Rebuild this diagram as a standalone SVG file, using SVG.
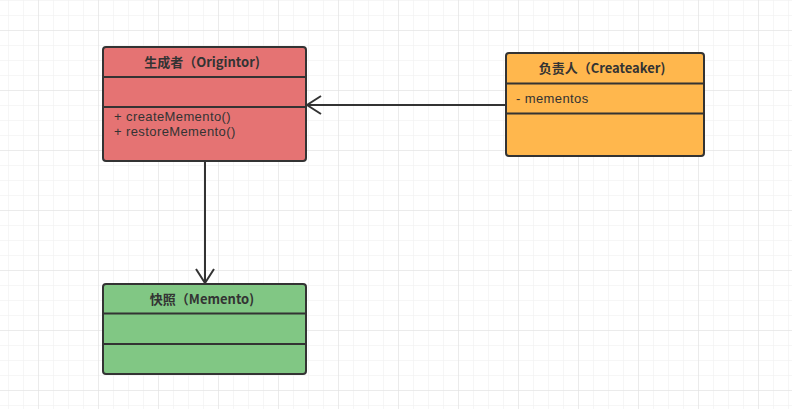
<svg xmlns="http://www.w3.org/2000/svg" width="792" height="409" viewBox="0 0 792 409">
<defs>
<pattern id="minor" width="15" height="15" patternUnits="userSpaceOnUse" x="8" y="0">
<path d="M0 0H15M0 0V15" fill="none" stroke="#eeeeee" stroke-width="1"/>
</pattern>
<pattern id="major" width="60" height="60" patternUnits="userSpaceOnUse" x="38" y="30">
<path d="M0 0H60M0 0V60" fill="none" stroke="#e0e0e0" stroke-width="1"/>
</pattern>
<marker id="open" viewBox="0 0 20 20" refX="19" refY="10" markerWidth="20" markerHeight="20" markerUnits="userSpaceOnUse" orient="auto">
<path d="M5 1L19 10L5 19" fill="none" stroke="#333333" stroke-width="2"/>
</marker>
</defs>
<style>
.box{stroke:#333333;stroke-width:2}
.div{stroke:#333333;stroke-width:2}
.title{font-family:"Noto Sans CJK SC","Noto Sans",sans-serif;font-size:13px;font-weight:bold;fill:#333333;text-anchor:middle}
.item{font-family:"Liberation Sans","Noto Sans CJK SC",sans-serif;font-size:13px;letter-spacing:0.4px;fill:#333333}
.edge{fill:none;stroke:#333333;stroke-width:2}
</style>
<rect width="792" height="409" fill="#ffffff"/>
<rect width="792" height="409" fill="url(#minor)"/>
<rect width="792" height="409" fill="url(#major)"/>
<g id="connectors">
<path class="edge" d="M506 105H307" marker-end="url(#open)"/>
<path class="edge" d="M205 162V283" marker-end="url(#open)"/>
</g>
<g id="originator">
<rect class="box" x="103" y="47" width="203" height="114" rx="3" fill="#E57373"/>
<line class="div" x1="103" y1="77" x2="306" y2="77"/>
<line class="div" x1="103" y1="107" x2="306" y2="107"/>
<text class="title" x="202" y="67">生成者（Origintor)</text>
<text class="item" x="114" y="120.5">+ createMemento()</text>
<text class="item" x="114" y="135.5">+ restoreMemento()</text>
</g>
<g id="caretaker">
<rect class="box" x="506" y="53" width="198" height="103" rx="3" fill="#FFB74D"/>
<line class="div" x1="506" y1="83.5" x2="704" y2="83.5"/>
<line class="div" x1="506" y1="113.5" x2="704" y2="113.5"/>
<text class="title" x="602" y="73">负责人（Createaker)</text>
<text class="item" x="516" y="103">- mementos</text>
</g>
<g id="memento">
<rect class="box" x="103" y="284" width="203" height="90" rx="3" fill="#81C784"/>
<line class="div" x1="103" y1="313.5" x2="306" y2="313.5"/>
<line class="div" x1="103" y1="344" x2="306" y2="344"/>
<text class="title" x="202" y="304">快照（Memento)</text>
</g>
</svg>
